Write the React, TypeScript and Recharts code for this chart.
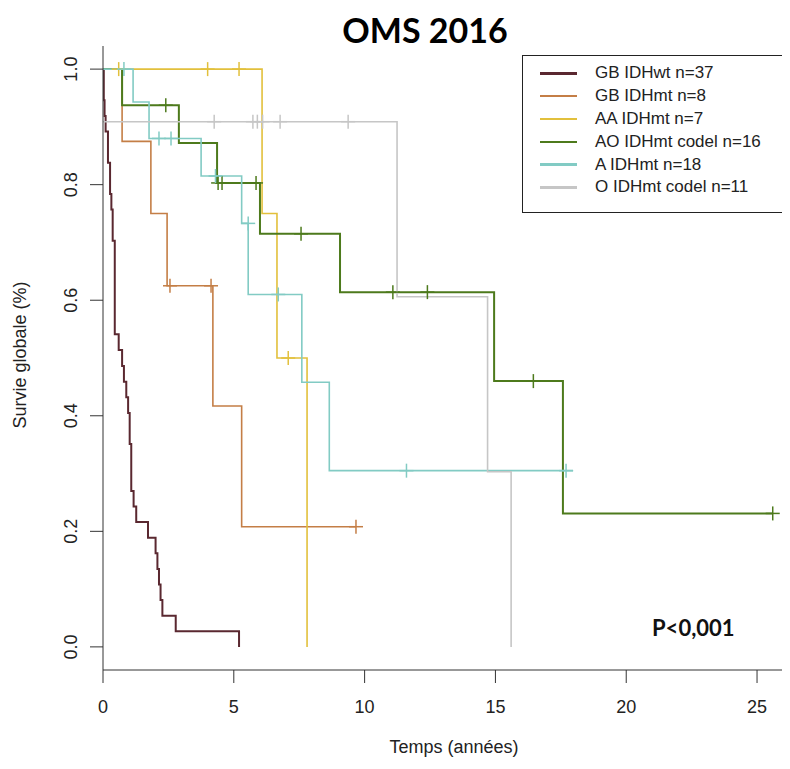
import React from "react";
import { ComposedChart, Line, Scatter, XAxis, YAxis } from "recharts";

// Kaplan-Meier steps: time of each drop (years) and survival after it
const gbWtTimes = [0, 0.03, 0.06, 0.1, 0.19, 0.27, 0.32, 0.37, 0.45, 0.6, 0.73, 0.8, 0.89, 0.96, 1.02, 1.08, 1.17, 1.27, 1.72, 2.01, 2.08, 2.14, 2.2, 2.27, 2.78, 5.2];
const gbWtSurv = [1, 0.946, 0.919, 0.892, 0.838, 0.784, 0.757, 0.703, 0.541, 0.514, 0.486, 0.459, 0.432, 0.405, 0.351, 0.27, 0.243, 0.216, 0.189, 0.162, 0.135, 0.108, 0.081, 0.054, 0.027, 0];

const gbMtTimes = [0, 0.73, 1.83, 2.45, 4.2, 5.3, 9.67];
const gbMtSurv = [1, 0.875, 0.75, 0.625, 0.417, 0.208, 0.208];

const aaTimes = [0, 6.08, 6.65, 7.8];
const aaSurv = [1, 0.75, 0.5, 0];

const aoTimes = [0, 0.73, 2.9, 4.36, 6.0, 9.06, 14.95, 17.58, 25.6];
const aoSurv = [1, 0.9375, 0.872, 0.803, 0.715, 0.614, 0.46, 0.231, 0.231];

const aTimes = [0, 1.15, 1.76, 3.75, 5.3, 5.55, 7.6, 8.65, 17.97];
const aSurv = [1, 0.943, 0.88, 0.815, 0.733, 0.61, 0.458, 0.305, 0.305];

const oTimes = [0, 11.24, 14.7, 15.6];
const oSurv = [0.909, 0.606, 0.303, 0];

// censored patients (+ marks)
const gbMtCensT = [2.56, 4.13, 9.67];
const gbMtCensS = [0.625, 0.625, 0.208];
const aaCensT = [0.6, 4.0, 5.2, 7.08];
const aaCensS = [1, 1, 1, 0.5];
const aoCensT = [2.4, 4.4, 4.55, 5.85, 7.57, 11.08, 12.4, 16.45, 25.6];
const aoCensS = [0.9375, 0.803, 0.803, 0.803, 0.715, 0.614, 0.614, 0.46, 0.231];
const aCensT = [0.8, 2.14, 2.6, 4.3, 5.55, 6.7, 11.6, 17.7];
const aCensS = [1, 0.88, 0.88, 0.815, 0.733, 0.61, 0.305, 0.305];
const oCensT = [4.25, 5.73, 5.9, 6.1, 6.77, 9.37];
const oCensS = [0.909, 0.909, 0.909, 0.909, 0.909, 0.909];

const seriesNames = [
  "GB IDHwt n=37",
  "GB IDHmt n=8",
  "AA IDHmt n=7",
  "AO IDHmt codel n=16",
  "A IDHmt n=18",
  "O IDHmt codel n=11",
];
const seriesColors = ["#5a2830", "#c47e46", "#e2c03c", "#4d7a1c", "#82cbc4", "#c6c6c6"];

const xTicks = [0, 5, 10, 15, 20, 25];
const yTicks = [0, 0.2, 0.4, 0.6, 0.8, 1.0];

const zip = (t: number[], s: number[]) => t.map((v, i) => ({ t: v, s: s[i] }));

const curves = [
  zip(gbWtTimes, gbWtSurv),
  zip(gbMtTimes, gbMtSurv),
  zip(aaTimes, aaSurv),
  zip(aoTimes, aoSurv),
  zip(aTimes, aSurv),
  zip(oTimes, oSurv),
];
const censored = [
  [],
  zip(gbMtCensT, gbMtCensS),
  zip(aaCensT, aaCensS),
  zip(aoCensT, aoCensS),
  zip(aCensT, aCensS),
  zip(oCensT, oCensS),
];

const axisFont = "'Liberation Sans', Arial, sans-serif";

const makeCross = (color: string) => (props: any) => {
  const { cx, cy } = props;
  return (
    <g stroke={color} strokeWidth={1.5}>
      <line x1={cx} y1={cy - 7} x2={cx} y2={cy + 7} />
      <line x1={cx - 7} y1={cy} x2={cx + 7} y2={cy} />
    </g>
  );
};

const XTick = (props: any) => {
  const { x, y, payload } = props;
  return (
    <text x={x} y={y + 28} textAnchor="middle" fontSize={18} fontFamily={axisFont} fill="#222">
      {payload.value}
    </text>
  );
};

const YTick = (props: any) => {
  const { x, y, payload } = props;
  const bx = x - 11;
  return (
    <text
      x={bx}
      y={y}
      textAnchor="middle"
      fontSize={18}
      fontFamily={axisFont}
      fill="#222"
      transform={`rotate(-90, ${bx}, ${y})`}
    >
      {Number(payload.value).toFixed(1)}
    </text>
  );
};

export default function App() {
  return (
    <div
      style={{
        position: "relative",
        width: 790,
        height: 769,
        margin: -8,
        overflow: "hidden",
        background: "#fff",
      }}
    >
      <ComposedChart width={790} height={769} margin={{ top: 46, right: 0, bottom: 0, left: 0 }}>
        <XAxis
          dataKey="t"
          type="number"
          domain={[0, 26.26]}
          ticks={xTicks}
          allowDataOverflow
          tickSize={13}
          stroke="#333"
          tick={<XTick />}
          height={99}
        />
        <YAxis
          dataKey="s"
          type="number"
          domain={[-0.04, 1.04]}
          ticks={yTicks}
          allowDataOverflow
          tickSize={13}
          stroke="#333"
          width={103}
          tick={<YTick />}
        />
        {curves.map((d, i) => (
          <Line
            key={"l" + i}
            data={d}
            dataKey="s"
            type="stepAfter"
            stroke={seriesColors[i]}
            strokeWidth={i === 0 || i === 3 ? 2 : 1.6}
            dot={false}
            activeDot={false}
            isAnimationActive={false}
          />
        ))}
        {censored.map((d, i) =>
          d.length ? (
            <Scatter
              key={"c" + i}
              data={d}
              dataKey="s"
              shape={makeCross(seriesColors[i])}
              isAnimationActive={false}
            />
          ) : null
        )}
      </ComposedChart>

      <div
        style={{
          position: "absolute",
          left: 0,
          width: 850,
          top: 9,
          textAlign: "center",
          fontFamily: "Lato, 'Open Sans', sans-serif",
          fontWeight: 700,
          fontSize: 34,
          color: "#000",
        }}
      >
        OMS 2016
      </div>

      <div
        style={{
          position: "absolute",
          left: 652,
          top: 614,
          fontFamily: "Lato, 'Open Sans', sans-serif",
          fontWeight: 700,
          fontSize: 22,
          color: "#111",
        }}
      >
        P&lt;0,001
      </div>

      <div
        style={{
          position: "absolute",
          left: 383,
          top: 737,
          width: 142,
          textAlign: "center",
          fontFamily: axisFont,
          fontSize: 18,
          color: "#222",
          whiteSpace: "nowrap",
        }}
      >
        Temps (années)
      </div>

      <div
        style={{
          position: "absolute",
          left: 20,
          top: 355,
          transform: "translate(-50%, -50%) rotate(-90deg)",
          fontFamily: axisFont,
          fontSize: 18,
          color: "#222",
          whiteSpace: "nowrap",
        }}
      >
        Survie globale (%)
      </div>

      <div
        style={{
          position: "absolute",
          left: 522,
          top: 55,
          width: 300,
          height: 158,
          border: "1px solid #222",
          background: "#fff",
          boxSizing: "border-box",
          paddingTop: 6,
        }}
      >
        {seriesNames.map((name, i) => (
          <div key={name} style={{ display: "flex", alignItems: "center", height: 22.8 }}>
            <div style={{ marginLeft: 17, width: 37, height: 2.5, background: seriesColors[i] }} />
            <div
              style={{
                marginLeft: 18,
                fontFamily: axisFont,
                fontSize: 17,
                color: "#222",
                whiteSpace: "nowrap",
              }}
            >
              {name}
            </div>
          </div>
        ))}
      </div>
    </div>
  );
}
